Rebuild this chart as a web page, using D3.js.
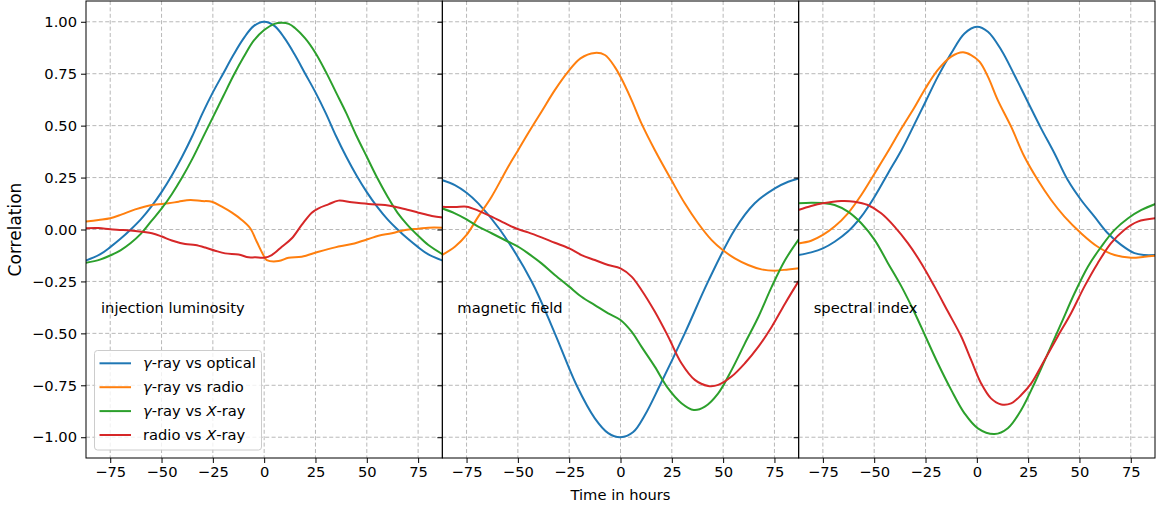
<!DOCTYPE html>
<html>
<head>
<meta charset="utf-8">
<script src="https://cdn.jsdelivr.net/npm/d3@7"></script>
<style>
  body { margin: 0; background: #fff; }
  svg { font-family: "DejaVu Sans", sans-serif; }
</style>
</head>
<body>
<svg id="chart" width="1157" height="506"></svg>
<script>
// tick values and labels
var xTicks = [-75, -50, -25, 0, 25, 50, 75];
var yTicks = [-1, -0.75, -0.5, -0.25, 0, 0.25, 0.5, 0.75, 1];
var panelNames = ["injection luminosity", "magnetic field", "spectral index"];
var colors = ["#1f77b4", "#ff7f0e", "#2ca02c", "#d62728"];

// panel 1: injection luminosity  [hours, correlation]
var injOpt = [[-87,-0.15],[-80,-0.12],[-75,-0.085],[-70,-0.045],[-65,0],[-60,0.05],[-55,0.11],[-50,0.18],[-45,0.26],[-40,0.35],[-35,0.45],[-30,0.56],[-25,0.66],[-20,0.75],[-15,0.84],[-10,0.92],[-5,0.98],[0,1.0],[5,0.98],[10,0.92],[15,0.84],[20,0.75],[25,0.66],[30,0.56],[35,0.45],[40,0.35],[45,0.26],[50,0.18],[55,0.11],[60,0.05],[65,0],[70,-0.045],[75,-0.085],[80,-0.12],[87,-0.15]];
var injRad = [[-87,0.038],[-80.7,0.046],[-75,0.054],[-69.3,0.073],[-62.8,0.097],[-54.7,0.118],[-46.6,0.126],[-41.7,0.134],[-36,0.142],[-30.4,0.137],[-25.5,0.134],[-20.6,0.11],[-15.7,0.081],[-10.9,0.046],[-6.8,0.006],[-3.6,-0.059],[0,-0.13],[1.3,-0.147],[7,-0.152],[11.9,-0.136],[18.3,-0.131],[26.5,-0.107],[34.6,-0.086],[42.7,-0.07],[50.8,-0.046],[55.7,-0.03],[62.2,-0.018],[68.7,-0.002],[75.2,0.004],[80,0.009],[87,0.009]];
var injXray = [[-87,-0.16],[-80,-0.145],[-75,-0.125],[-70,-0.1],[-65,-0.065],[-60,-0.02],[-55,0.04],[-50,0.1],[-45,0.17],[-40,0.25],[-35,0.34],[-30,0.44],[-25,0.54],[-20,0.64],[-15,0.74],[-10,0.83],[-5,0.91],[0,0.96],[5,0.99],[8.6,0.995],[12,0.99],[15,0.97],[20,0.92],[25,0.85],[30,0.76],[35,0.66],[40,0.56],[45,0.45],[50,0.35],[55,0.25],[60,0.16],[65,0.08],[70,0.02],[75,-0.03],[80,-0.075],[87,-0.12]];
var injRadX = [[-87,0.006],[-80.7,0.007],[-75,0.001],[-69.3,-0.002],[-62.8,-0.007],[-54.7,-0.018],[-49.8,-0.034],[-45,-0.053],[-38.5,-0.07],[-33.6,-0.075],[-28.7,-0.087],[-23.9,-0.102],[-19,-0.115],[-12.5,-0.12],[-7.6,-0.134],[-4.4,-0.134],[0,-0.136],[3.7,-0.123],[8.6,-0.083],[13.5,-0.042],[18.3,0.022],[23.2,0.081],[26.5,0.102],[31.3,0.121],[36.2,0.139],[42.7,0.131],[50.8,0.123],[58.9,0.118],[63.8,0.11],[70.3,0.094],[75.2,0.081],[81.7,0.065],[87,0.058]];

// panel 2: magnetic field
var magOpt = [[-87,0.238],[-80.7,0.214],[-75,0.177],[-69.3,0.126],[-58.8,0],[-43.3,-0.25],[-32,-0.5],[-21.4,-0.75],[-12.5,-0.909],[-6,-0.98],[0,-1.0],[6.2,-0.975],[11.9,-0.893],[19.2,-0.75],[31.3,-0.5],[42.7,-0.25],[55.7,0],[65.4,0.126],[75.2,0.198],[81.7,0.23],[87,0.246]];
var magRad = [[-87,-0.123],[-80.7,-0.083],[-75,-0.026],[-69.3,0.062],[-62.8,0.158],[-54.7,0.302],[-49.8,0.383],[-45,0.463],[-38.5,0.567],[-32,0.671],[-25.5,0.76],[-19.5,0.824],[-12.5,0.85],[-7.6,0.84],[-2.8,0.783],[0,0.735],[5.4,0.623],[10.2,0.511],[16.7,0.383],[24.8,0.238],[31.3,0.126],[37.8,0.03],[44.3,-0.05],[49.8,-0.099],[55.7,-0.139],[62.2,-0.171],[68.7,-0.192],[75.2,-0.198],[81.7,-0.192],[87,-0.187]];
var magXray = [[-87,0.102],[-80.7,0.078],[-75,0.049],[-69.3,0.014],[-62.8,-0.018],[-54.7,-0.059],[-49.8,-0.083],[-45,-0.115],[-38.5,-0.163],[-32,-0.219],[-25,-0.275],[-19,-0.324],[-12.5,-0.364],[-6,-0.404],[0,-0.436],[5.4,-0.492],[10.2,-0.564],[16.7,-0.66],[23.2,-0.765],[29.7,-0.836],[35.7,-0.869],[41.1,-0.853],[47.6,-0.789],[54.1,-0.677],[60.6,-0.548],[67.2,-0.42],[73.7,-0.275],[80.2,-0.147],[87,-0.045]];
var magRadX = [[-87,0.11],[-80.7,0.108],[-75,0.11],[-69.3,0.091],[-62.8,0.062],[-54.7,0.022],[-49.8,0.001],[-45,-0.014],[-38.5,-0.038],[-32,-0.064],[-25,-0.091],[-19,-0.123],[-12.5,-0.147],[-6,-0.171],[0,-0.187],[5.4,-0.227],[10.2,-0.291],[16.7,-0.395],[23.2,-0.515],[29.7,-0.644],[36.2,-0.724],[42.7,-0.753],[47.6,-0.748],[54.1,-0.708],[60.6,-0.644],[67.2,-0.564],[73.7,-0.468],[80.2,-0.356],[87,-0.245]];

// panel 3: spectral index
var specOpt = [[-87,-0.123],[-80.7,-0.11],[-75,-0.091],[-69.3,-0.059],[-62.8,-0.01],[-56.3,0.062],[-49.8,0.158],[-43.3,0.27],[-36.7,0.383],[-30.2,0.511],[-25,0.615],[-19,0.736],[-12.5,0.848],[-6,0.944],[0,0.976],[5.4,0.952],[11.9,0.864],[18.3,0.744],[24.8,0.615],[31.3,0.487],[37.8,0.367],[44.3,0.238],[50.8,0.142],[57.3,0.062],[63.8,-0.018],[70.3,-0.074],[76.8,-0.114],[81.7,-0.123],[87,-0.123]];
var specRad = [[-87,-0.067],[-80.7,-0.054],[-75,-0.026],[-69.3,0.014],[-62.8,0.078],[-56.3,0.166],[-49.8,0.27],[-43.3,0.375],[-36.7,0.487],[-30.2,0.591],[-25,0.68],[-19,0.768],[-12.5,0.832],[-6.8,0.853],[-2.8,0.84],[1.3,0.808],[5.4,0.736],[10.2,0.623],[16.7,0.495],[23.2,0.35],[29.7,0.238],[36.2,0.142],[42.7,0.062],[50.8,-0.018],[58.9,-0.083],[67.1,-0.123],[75.2,-0.136],[81.7,-0.131],[87,-0.126]];
var specXray = [[-87,0.126],[-80.7,0.129],[-75,0.127],[-69.3,0.118],[-62.8,0.086],[-56.3,0.03],[-49.8,-0.05],[-43.3,-0.162],[-36.7,-0.275],[-30.2,-0.403],[-25,-0.515],[-19,-0.644],[-12.5,-0.772],[-6,-0.885],[0.5,-0.957],[8.6,-0.985],[15.1,-0.957],[21.6,-0.869],[28.1,-0.74],[34.6,-0.596],[41.1,-0.452],[47.6,-0.307],[54.1,-0.179],[60.6,-0.083],[67.1,-0.002],[73.7,0.054],[80.2,0.094],[87,0.123]];
var specRadX = [[-87,0.094],[-80.7,0.113],[-75,0.126],[-66.1,0.137],[-59.6,0.134],[-53.1,0.118],[-46.6,0.078],[-40.1,0.014],[-33.6,-0.066],[-27.1,-0.162],[-20.6,-0.275],[-14.1,-0.395],[-7.6,-0.515],[-2.8,-0.628],[2.1,-0.741],[6.9,-0.813],[11.9,-0.842],[16.7,-0.837],[21.6,-0.797],[26.5,-0.741],[33,-0.628],[39.4,-0.515],[45.9,-0.403],[52.4,-0.275],[58.9,-0.162],[65.4,-0.066],[71.8,-0.002],[78.4,0.038],[87,0.054]];

var panels = [
    [injOpt, injRad, injXray, injRadX],
    [magOpt, magRad, magXray, magRadX],
    [specOpt, specRad, specXray, specRadX]
];

var o = {
    left: 86, top: 1, right: 1155, bottom: 458,
    fontSize: 14.7
};
var pw = (o.right - o.left) / 3;

var svg = d3.select('#chart');

var y = d3.scaleLinear()
    .domain([-1.1, 1.1])
    .range([o.bottom, o.top]);

var fmtY = d3.format('.2f');

panels.forEach(function(series, p) {
    var x0 = o.left + p * pw;
    var x = d3.scaleLinear()
        .domain([-86.8, 86.8])
        .range([x0, x0 + pw]);

    var g = svg.append('g');

    g.append('clipPath')
        .attr('id', 'clip' + p)
        .append('rect')
        .attr('x', x0).attr('y', o.top)
        .attr('width', pw).attr('height', o.bottom - o.top);

    // grid
    g.selectAll('.gx').data(xTicks).enter().append('line')
        .attr('x1', function(d) { return x(d) }).attr('x2', function(d) { return x(d) })
        .attr('y1', o.top).attr('y2', o.bottom)
        .attr('stroke', '#b0b0b0').attr('stroke-width', 0.9)
        .attr('stroke-dasharray', '4,2.4');
    g.selectAll('.gy').data(yTicks).enter().append('line')
        .attr('x1', x0).attr('x2', x0 + pw)
        .attr('y1', function(d) { return y(d) }).attr('y2', function(d) { return y(d) })
        .attr('stroke', '#b0b0b0').attr('stroke-width', 0.9)
        .attr('stroke-dasharray', '4,2.4');

    var line = d3.line()
        .x(function(d) { return x(d[0]) })
        .y(function(d) { return y(d[1]) })
        .curve(d3.curveCatmullRom.alpha(0.5));

    g.append('g')
        .attr('clip-path', 'url(#clip' + p + ')')
        .selectAll('path')
        .data(series)
        .enter().append('path')
        .attr('d', line)
        .attr('fill', 'none')
        .attr('stroke', function(d, i) { return colors[i] })
        .attr('stroke-width', 2);

    // x axis
    var ax = g.append('g')
        .attr('transform', 'translate(0,' + o.bottom + ')')
        .call(d3.axisBottom(x).tickValues(xTicks).tickSize(5).tickPadding(4)
            .tickFormat(d3.format('d')));
    ax.select('.domain').remove();
    ax.selectAll('text').attr('font-size', o.fontSize).attr('fill', '#000')
        .attr('font-family', '"DejaVu Sans", sans-serif');
    ax.selectAll('line').attr('stroke', '#000').attr('stroke-width', 1);

    // y axis (labels only on first panel)
    var ay = g.append('g')
        .attr('transform', 'translate(' + x0 + ',0)')
        .call(d3.axisLeft(y).tickValues(yTicks).tickSize(5).tickPadding(4)
            .tickFormat(p === 0 ? fmtY : ''));
    ay.select('.domain').remove();
    ay.selectAll('text').attr('font-size', o.fontSize).attr('fill', '#000')
        .attr('font-family', '"DejaVu Sans", sans-serif');
    ay.selectAll('line').attr('stroke', '#000').attr('stroke-width', 1);

    // frame
    g.append('rect')
        .attr('x', x0).attr('y', o.top)
        .attr('width', pw).attr('height', o.bottom - o.top)
        .attr('fill', 'none').attr('stroke', '#000').attr('stroke-width', 1);

    g.append('text')
        .attr('x', x0 + 15).attr('y', 313)
        .attr('font-size', o.fontSize)
        .text(panelNames[p]);
});

// axis titles
svg.append('text')
    .attr('x', o.left + pw * 1.5).attr('y', 500)
    .attr('text-anchor', 'middle')
    .attr('font-size', o.fontSize)
    .text('Time in hours');

svg.append('text')
    .attr('transform', 'translate(21,' + y(0) + ') rotate(-90)')
    .attr('text-anchor', 'middle')
    .attr('font-size', 17)
    .text('Correlation');

// legend
var legendItems = [
    [['γ', true], ['-ray vs optical', false]],
    [['γ', true], ['-ray vs radio', false]],
    [['γ', true], ['-ray vs ', false], ['X', true], ['-ray', false]],
    [['radio vs ', false], ['X', true], ['-ray', false]]
];

var lg = svg.append('g');
lg.append('rect')
    .attr('x', 94.5).attr('y', 350.5)
    .attr('width', 167).attr('height', 99.5)
    .attr('rx', 3)
    .attr('fill', '#fff').attr('fill-opacity', 0.8)
    .attr('stroke', '#cccccc').attr('stroke-width', 1);

legendItems.forEach(function(parts, i) {
    var ly = 363.3 + i * 23.9;
    lg.append('line')
        .attr('x1', 99.5).attr('x2', 131)
        .attr('y1', ly).attr('y2', ly)
        .attr('stroke', colors[i]).attr('stroke-width', 2);
    var t = lg.append('text')
        .attr('x', 143).attr('y', ly + 5)
        .attr('font-size', o.fontSize);
    parts.forEach(function(pt) {
        t.append('tspan')
            .attr('font-style', pt[1] ? 'italic' : 'normal')
            .text(pt[0]);
    });
});
</script>
</body>
</html>
